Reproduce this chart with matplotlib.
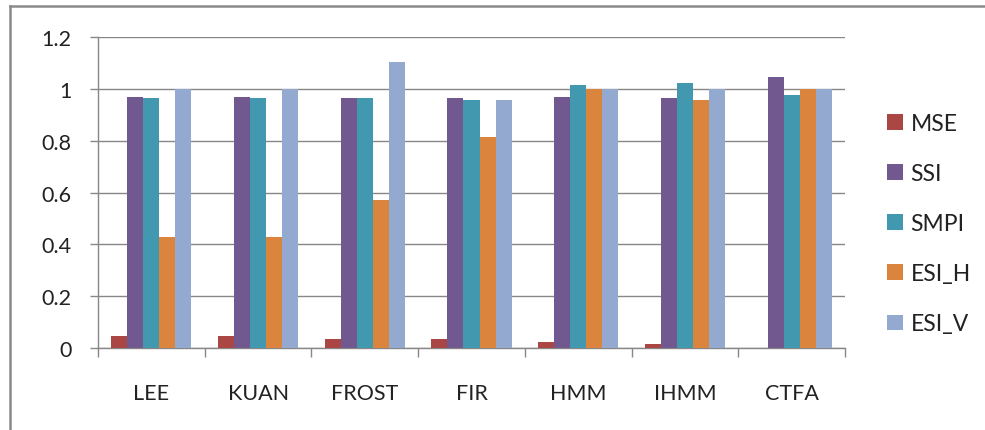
import matplotlib
matplotlib.use("Agg")
import matplotlib.pyplot as plt
import numpy as np
from matplotlib.patches import Patch
from matplotlib.lines import Line2D

plt.rcParams['font.family'] = ['Lato', 'DejaVu Sans']

categories = ["LEE", "KUAN", "FROST", "FIR", "HMM", "IHMM", "CTFA"]
series_names = ["MSE", "SSI", "SMPI", "ESI_H", "ESI_V"]

mse   = [0.045, 0.045, 0.036, 0.036, 0.022, 0.015, 0.0]
ssi   = [0.970, 0.970, 0.965, 0.963, 0.970, 0.965, 1.046]
smpi  = [0.963, 0.963, 0.965, 0.956, 1.015, 1.021, 0.976]
esi_h = [0.427, 0.427, 0.571, 0.814, 1.000, 0.956, 1.000]
esi_v = [1.000, 1.000, 1.105, 0.956, 1.000, 1.000, 1.000]

y_ticks = [0, 0.2, 0.4, 0.6, 0.8, 1.0, 1.2]
y_tick_labels = ["0", "0.2", "0.4", "0.6", "0.8", "1", "1.2"]

colors = ["#AA4643", "#71588F", "#4198AF", "#DB843D", "#93A9CF"]
grid_color = "#878787"
text_color = "#222222"

W, H = 985, 431
fig = plt.figure(figsize=(W / 100, H / 100), dpi=100)

# outer chart frame (left and top edges)
frame_kw = dict(color="#8a8a8a", lw=1.8, transform=fig.transFigure)
fig.add_artist(Line2D([10 / W, 10 / W], [0, 1 - 7 / H], **frame_kw))
fig.add_artist(Line2D([10 / W, 1], [1 - 7 / H, 1 - 7 / H], **frame_kw))

ax = fig.add_axes([98 / W, (H - 349) / H, (845 - 98) / W, (349 - 38) / H])

all_series = [mse, ssi, smpi, esi_h, esi_v]
n = len(all_series)
bar_w = 0.75 / n
x = np.arange(len(categories))
for i, (vals, col) in enumerate(zip(all_series, colors)):
    offs = -0.375 + bar_w * (i + 0.5)
    ax.bar(x + 0.5 + offs, vals, width=bar_w, color=col, edgecolor="none",
           zorder=3, label=series_names[i])

ax.set_xlim(0, len(categories))
ax.set_ylim(0, 1.2)

ax.set_yticks(y_ticks)
ax.set_yticklabels(y_tick_labels)
ax.yaxis.grid(True, color=grid_color, lw=1.0, zorder=0)

ax.set_xticks(np.arange(len(categories) + 1))
ax.set_xticklabels([])
ax.set_xticks(x + 0.5, minor=True)
ax.set_xticklabels(categories, minor=True)

ax.tick_params(axis="x", which="major", length=6.5, width=1.0, color=grid_color,
               direction="out")
ax.tick_params(axis="x", which="minor", length=0, pad=25, labelsize=15.5,
               labelcolor=text_color)
ax.tick_params(axis="y", length=6, width=1.0, color=grid_color, direction="out",
               pad=13, labelsize=15.5, labelcolor=text_color)

for side in ("top", "right"):
    ax.spines[side].set_visible(False)
for side in ("left", "bottom"):
    ax.spines[side].set_color(grid_color)
    ax.spines[side].set_linewidth(1.0)

handles = [Patch(facecolor=c, edgecolor="none") for c in colors]
leg = fig.legend(handles, series_names, loc="upper left",
                 bbox_to_anchor=(887 / W, 1 - 114 / H), frameon=False,
                 handlelength=0.68, handleheight=0.68, handletextpad=0.35,
                 labelspacing=1.27, fontsize=16.5, borderaxespad=0, borderpad=0)
for t in leg.get_texts():
    t.set_color(text_color)

fig.savefig("out.png", dpi=100)
